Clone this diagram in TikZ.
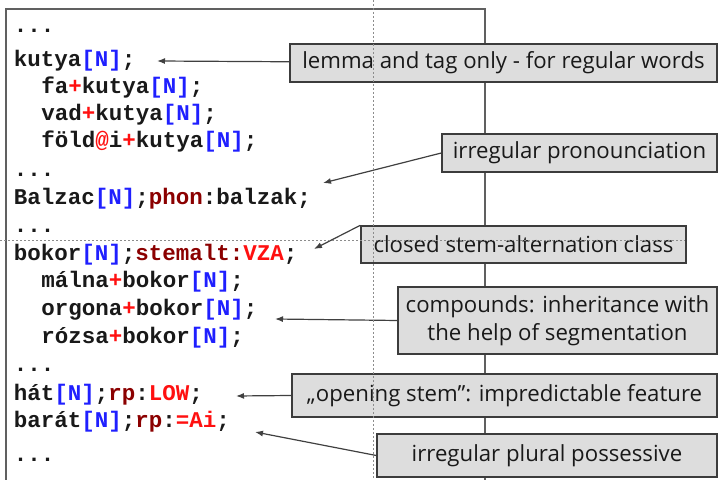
\documentclass[tikz,border=0pt]{standalone}
\usepackage{fontspec}
\usetikzlibrary{arrows.meta}
\newfontfamily\codefont{Liberation Mono}
\newfontfamily\notefont{Open Sans}
\definecolor{tagblue}{HTML}{1F1FFF}
\definecolor{plusred}{HTML}{FF1010}
\definecolor{featred}{HTML}{8B0000}
\definecolor{valred}{HTML}{FF1010}
\definecolor{framegray}{HTML}{606060}
\definecolor{notefill}{HTML}{DDDDDD}
\definecolor{noteline}{HTML}{3C3C3C}
\newcommand{\tagN}{\textcolor{tagblue}{[N]}}
\newcommand{\pls}{\textcolor{plusred}{+}}
\newcommand{\feat}[1]{\textcolor{featred}{#1}}
\newcommand{\fval}[1]{\textcolor{valred}{#1}}
\tikzset{
  codeline/.style={anchor=base west, inner sep=0pt, text=black!90,
    font=\codefont\bfseries\fontsize{11.25}{13}\selectfont},
  note/.style={draw=noteline, line width=0.7pt, fill=notefill, inner sep=0pt,
    text=black!90, align=center, font=\notefont\fontsize{11.1}{14}\selectfont},
  callarrow/.style={draw=black!75, line width=0.6pt, -{Latex[length=4pt,width=3pt]}},
  guide/.style={draw=black!45, line width=0.5pt, dash pattern=on 1pt off 1pt},
}
\begin{document}
\begin{tikzpicture}[x=0.5pt,y=-0.5pt]
    \useasboundingbox (0,0) rectangle (718,480);
    % Frame
    \draw[framegray, line width=1pt] (6,481) -- (6,9) -- (485,9) -- (485,481);
    % Lexicon entries
    \node[codeline] (dotsA) at (13.5,33) {...};
    \node[codeline] (kutya) at (13.5,67) {kutya\tagN;};
    \node[codeline] (fakutya) at (41,94) {fa\pls kutya\tagN;};
    \node[codeline] (vadkutya) at (41,121) {vad\pls kutya\tagN;};
    \node[codeline] (foldkutya) at (41,148) {föld\textcolor{plusred}{@}i\pls kutya\tagN;};
    \node[codeline] (dotsB) at (13.5,177) {...};
    \node[codeline] (balzac) at (13.5,205) {Balzac\tagN;\feat{phon}:balzak;};
    \node[codeline] (dotsC) at (13.5,233) {...};
    \node[codeline] (bokor) at (13.5,261) {bokor\tagN;\feat{stemalt:}\fval{VZA};};
    \node[codeline] (malna) at (41,288) {málna\pls bokor\tagN;};
    \node[codeline] (orgona) at (41,316) {orgona\pls bokor\tagN;};
    \node[codeline] (rozsa) at (41,344) {rózsa\pls bokor\tagN;};
    \node[codeline] (dotsD) at (13.5,372) {...};
    \node[codeline] (hat) at (13.5,401) {hát\tagN;\feat{rp}:\fval{LOW};};
    \node[codeline] (barat) at (13.5,428) {barát\tagN;\feat{rp}:\fval{=Ai};};
    \node[codeline] (dotsE) at (13.5,462) {...};
    % Arrow targets
    \coordinate (kutyaT) at (157,61);
    \coordinate (balzacT) at (323,183);
    \coordinate (bokorT) at (314,249);
    \coordinate (orgonaT) at (275,319);
    \coordinate (hatT) at (236,396);
    \coordinate (baratT) at (255,432);
    % Notes
    \node[note, minimum width=213.5pt, minimum height=19pt] (regular) at (503.5,63)
        {lemma and tag only - for regular words};
    \node[note, minimum width=137.5pt, minimum height=19pt] (pronun) at (579.5,153)
        {irregular pronounciation};
    \node[note, minimum width=162.5pt, minimum height=18.5pt] (stemalt) at (523.5,244.5)
        {closed stem-alternation class};
    \node[note, minimum width=159.5pt, minimum height=33.5pt] (compound) at (557.5,320.5)
        {compounds: inheritance with\\the help of segmentation};
    \node[note, minimum width=212.5pt, minimum height=21.5pt] (opening) at (504.5,395.5)
        {„opening stem”: impredictable feature};
    \node[note, minimum width=170pt, minimum height=21.5pt] (possessive) at (547,455.5)
        {irregular plural possessive};
    % Connectors
    \draw[callarrow] (regular) -- (kutyaT);
    \draw[callarrow] (pronun.west) -- (balzacT);
    \draw[callarrow] (stemalt.north west) -- (bokorT);
    \draw[callarrow] (compound.west) -- (orgonaT);
    \draw[callarrow] (opening.west) -- (hatT);
    \draw[callarrow] (possessive.west) -- (baratT);
    % Guides
    \draw[guide] (373,0) -- (373,480);
    \draw[guide] (0,241) -- (685,241);
\end{tikzpicture}
\end{document}
